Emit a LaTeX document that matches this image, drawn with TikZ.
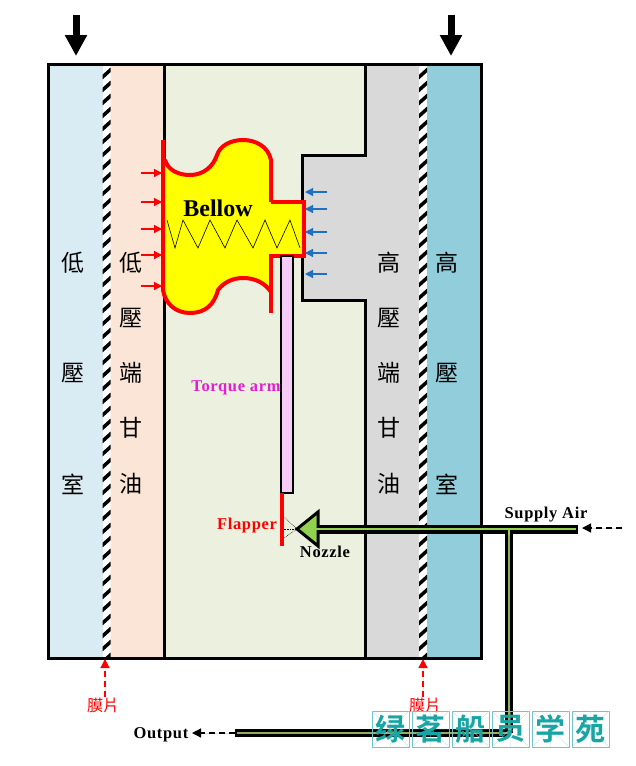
\documentclass[tikz,border=0pt]{standalone}
\usepackage{fontspec}
\usepackage{tikz}
\usetikzlibrary{arrows.meta}
\setmainfont{Liberation Serif}
\newfontfamily\cjk{Noto Sans CJK TC}
\newfontfamily\cjkmark{Noto Sans CJK SC}[BoldFont={* Bold}]
\definecolor{lowroom}{HTML}{DAECF3}
\definecolor{lowoil}{HTML}{FBE5D6}
\definecolor{midroom}{HTML}{EBF1DE}
\definecolor{highoil}{HTML}{D9D9D9}
\definecolor{highroom}{HTML}{92CDDC}
\definecolor{armfill}{HTML}{F6CCF6}
\definecolor{pipegreen}{HTML}{92D050}
\definecolor{pipedark}{HTML}{8FB060}
\definecolor{markteal}{HTML}{1AA5A5}
\definecolor{markline}{HTML}{70C4CC}
\definecolor{loadblue}{HTML}{1F70C0}
\definecolor{bellowfill}{HTML}{FFFF00}
\definecolor{filmred}{HTML}{FF0000}
\tikzset{
	/DP/room/.style={fill=#1, draw=none},
	/DP/wall/.style={draw=black, line width=3pt},
	/DP/hanzi/.style={font=\cjk\fontsize{23}{23}\selectfont, inner sep=0pt},
	/DP/word/.style={font=\bfseries\fontsize{16.5}{16.5}\selectfont\addfontfeature{LetterSpace=4}, inner sep=0pt, text=black},
	/DP/film/.style={font=\cjk\fontsize{16}{16}\selectfont, inner sep=0pt, text=filmred},
	/DP/push/.style={-{Triangle[width=21pt,length=21pt]}, line width=7pt},
	/DP/load/.style={-{Triangle[length=8pt,width=8pt]}, line width=1.2pt, draw=#1, fill=#1},
	/DP/feed/.style={-{Triangle[width=9pt,length=9pt]}, line width=1.3pt, dash pattern=on 6pt off 4pt, draw=#1, fill=#1},
}

\begin{document}
\begin{tikzpicture}[x=1pt, y=-1pt]
	\useasboundingbox (0,0) rectangle (635,766);
	% rooms
	\path[/DP/room=lowroom] (48,64) rectangle (105,658);
	\path[/DP/room=lowoil] (105,64) rectangle (164,658);
	\path[/DP/room=midroom] (164,64) rectangle (365,658);
	\path[/DP/room=highoil] (365,64) -- (423,64) -- (423,658) -- (365,658) -- (365,300) -- (302,300) -- (302,155) -- (365,155) -- cycle;
	\path[/DP/room=highroom] (423,64) rectangle (481,658);
	% walls
	\draw[/DP/wall] (164,64) -- (164,658);
	\draw[/DP/wall] (365,64) -- (365,155) -- (302,155) -- (302,300) -- (365,300) -- (365,658);
	% diaphragms
	\foreach \filmx in {102.5,419}{
		\begin{scope}
			\clip (\filmx,64) rectangle ++(8,594);
			\fill[white] (\filmx,64) rectangle ++(8,594);
			\foreach \filmy in {60,73,...,670}{
				\draw[line width=3.5pt] (\filmx-1,\filmy+5) -- (\filmx+9,\filmy-4);
			}
		\end{scope}
	}
	\draw[/DP/wall] (48,64) rectangle (481,658);
	% bellow
	\fill[bellowfill] (163,140) -- (163,290) .. controls (165,303) and (175,313) .. (190,313)
		.. controls (205,313) and (214,305) .. (218,290) .. controls (224,282) and (233,278) .. (243,278)
		.. controls (255,278) and (265,283) .. (271,292) -- (271,256) -- (304,256) -- (304,202) -- (271,202)
		-- (271,160) .. controls (268,146) and (255,140) .. (243,140) .. controls (230,140) and (220,146) .. (217,155)
		.. controls (213,167) and (203,175) .. (190,175) .. controls (178,175) and (168,170) .. (163,160) -- cycle;
	\draw[filmred, line width=4pt] (271,202) -- (271,160) .. controls (268,146) and (255,140) .. (243,140)
		.. controls (230,140) and (220,146) .. (217,155) .. controls (213,167) and (203,175) .. (190,175)
		.. controls (178,175) and (168,170) .. (165,160);
	\draw[filmred, line width=4pt] (271,292) .. controls (265,283) and (255,278) .. (243,278)
		.. controls (233,278) and (224,282) .. (218,290) .. controls (214,305) and (205,313) .. (190,313)
		.. controls (175,313) and (165,303) .. (163,290) -- (163,140);
	\draw[filmred, line width=4pt] (271,202) -- (304,202) -- (304,256) -- (271,256);
	\draw[filmred, line width=4pt] (271,254) -- (271,313);
	\draw[line width=0.6pt] (167,220) -- (175,248) -- (183,220) -- (198,248) -- (210,220) -- (225,248)
		-- (237,220) -- (253,248) -- (265,220) -- (277,248) -- (290,220) -- (300,248);
	\path (218,208) node[/DP/word, font=\bfseries\fontsize{24}{24}\selectfont] (bellow) {Bellow};
	% pressure on the bellow
	\foreach \loady in {173,202,229,255,286}{
		\coordinate (redfrom) at (141,\loady);
		\coordinate (redto) at (162,\loady);
		\draw[/DP/load=filmred] (redfrom) -- (redto);
	}
	\foreach \loady in {192,209,232,253,274}{
		\coordinate (bluefrom) at (327,\loady);
		\coordinate (blueto) at (305,\loady);
		\draw[/DP/load=loadblue] (bluefrom) -- (blueto);
	}
	% arm and flapper
	\draw[fill=armfill, line width=2.5pt] (281,256) rectangle (293,493);
	\draw[filmred, line width=4pt] (282,493) -- (282,546);
	\path (236,388) node[/DP/word, text={rgb,255:red,224;green,32;blue,208}] (arm) {Torque arm};
	\path (247,526) node[/DP/word, text=filmred] (flapper) {Flapper};
	% pipes
	\coordinate (bend) at (509,529);
	\coordinate (supply) at (578,529);
	\coordinate (lower) at (509,733);
	\coordinate (outend) at (235,733);
	\coordinate (throat) at (316,529);
	\draw[line width=9pt] (throat) -- (supply);
	\draw[line width=8pt] (bend) -- (lower);
	\draw[line width=8pt] (lower) -- (outend);
	\draw[pipegreen, line width=2.5pt] (throat) -- (576,529);
	\draw[pipegreen, line width=2.5pt] (bend) -- ++(0,6);
	\draw[pipedark, line width=2.5pt] (509,535) -- (lower) -- (237,733);
	% nozzle
	\draw[fill=pipegreen, line width=3pt, line join=miter] (297,529) -- (318,512) -- (318,546) -- cycle;
	\draw[pipegreen, line width=2.5pt] (312,529) -- (320,529);
	\coordinate (tip) at (297,529);
	\draw[densely dotted, line width=0.6pt] (tip) -- (284,517);
	\draw[densely dotted, line width=0.6pt] (tip) -- (284,529);
	\draw[densely dotted, line width=0.6pt] (tip) -- (284,538);
	\path (325,552) node[/DP/word] (nozzle) {Nozzle};
	\path (546,515) node[/DP/word] (air) {Supply Air};
	\path (161,735) node[/DP/word] (output) {Output};
	% feed arrows
	\coordinate (airfrom) at (622,528);
	\coordinate (airto) at (582,528);
	\draw[/DP/feed=black] (airfrom) -- (airto);
	\coordinate (outto) at (192,733);
	\draw[/DP/feed=black] (outend) -- (outto);
	% big arrows
	\foreach \pushx/\pushname in {76/lefttop,451/righttop}{
		\coordinate (\pushname a) at (\pushx,15);
		\coordinate (\pushname b) at (\pushx,56);
		\draw[/DP/push] (\pushname a) -- (\pushname b);
	}
	% room labels
	\foreach \hz/\hy/\hn in {低/263/a,壓/373/b,室/484/c}{
		\path (73,\hy) node[/DP/hanzi] (low\hn) {\hz};
	}
	\foreach \hz/\hy/\hn in {低/263/a,壓/318/b,端/373/c,甘/428/d,油/484/e}{
		\path (131,\hy) node[/DP/hanzi] (lowoil\hn) {\hz};
	}
	\foreach \hz/\hy/\hn in {高/263/a,壓/318/b,端/373/c,甘/428/d,油/484/e}{
		\path (389,\hy) node[/DP/hanzi] (highoil\hn) {\hz};
	}
	\foreach \hz/\hy/\hn in {高/263/a,壓/373/b,室/484/c}{
		\path (447,\hy) node[/DP/hanzi] (high\hn) {\hz};
	}
	% diaphragm labels
	\path (103,705) node[/DP/film] (filmleft) {膜片};
	\path (425,705) node[/DP/film] (filmright) {膜片};
	\coordinate (filmlefttop) at (105,659);
	\coordinate (filmrighttop) at (423,659);
	\draw[/DP/feed=filmred] (filmleft.north -| filmlefttop) -- (filmlefttop);
	\draw[/DP/feed=filmred] (filmright.north -| filmrighttop) -- (filmrighttop);
	% mark
	\foreach \markch [count=\marki from 0] in {绿,茗,船,员,学,苑}{
		\draw[markline, line width=0.7pt] (372+40*\marki,711) rectangle ++(37,36);
		\draw[markline!50, line width=0.3pt] (372+40*\marki,711) -- ++(37,36) (409+40*\marki,711) -- ++(-37,36)
			(372+40*\marki,729) -- ++(37,0) (390.5+40*\marki,711) -- ++(0,36);
		\path (390.5+40*\marki,729) node[inner sep=0pt, text=markteal, font=\cjkmark\bfseries\fontsize{30}{30}\selectfont] (mark\marki) {\markch};
	}
\end{tikzpicture}
\end{document}
